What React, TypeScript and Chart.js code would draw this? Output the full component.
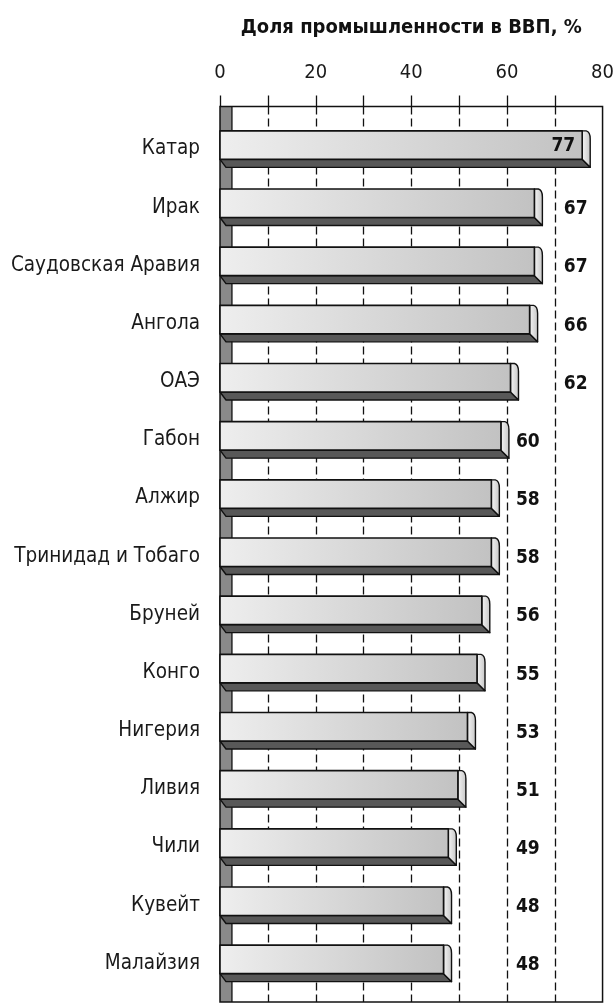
import { useEffect, useRef } from "react";
import { Chart, registerables } from "chart.js";

Chart.register(...registerables);

const TITLE = "Доля промышленности в ВВП, %";
const countries = [
  "Катар",
  "Ирак",
  "Саудовская Аравия",
  "Ангола",
  "ОАЭ",
  "Габон",
  "Алжир",
  "Тринидад и Тобаго",
  "Бруней",
  "Конго",
  "Нигерия",
  "Ливия",
  "Чили",
  "Кувейт",
  "Малайзия",
];
const shares = [77, 67, 67, 66, 62, 60, 58, 58, 56, 55, 53, 51, 49, 48, 48];
const axisTicks = [0, 20, 40, 60, 80];
const gridStep = 10;

const W = 614;
const H = 1004;
const FONT = "'DejaVu Sans Condensed', 'DejaVu Sans', sans-serif";

const decorPlugin = {
  id: "decor3d",
  beforeDatasetsDraw(chart: any) {
    const { ctx, chartArea, scales } = chart;
    const x = scales.x;
    const left = chartArea.left;
    const right = chartArea.right;
    const top = chartArea.top - 9.5;
    const bottom = chartArea.bottom + 13.5;
    ctx.save();
    // left wall
    const wallR = x.getPixelForValue(2.5);
    ctx.fillStyle = "#8a8a8a";
    ctx.fillRect(left, top, wallR - left, bottom - top);
    ctx.strokeStyle = "#111";
    ctx.lineWidth = 1.3;
    ctx.beginPath();
    ctx.moveTo(wallR, top);
    ctx.lineTo(wallR, bottom);
    ctx.stroke();
    // dashed grid
    ctx.setLineDash([8, 4]);
    ctx.lineWidth = 1.3;
    for (let v = gridStep; v < x.max; v += gridStep) {
      const px = Math.round(x.getPixelForValue(v)) + 0.5;
      ctx.beginPath();
      ctx.moveTo(px, top);
      ctx.lineTo(px, bottom);
      ctx.stroke();
    }
    ctx.setLineDash([]);
    // tick marks above the frame
    for (let v = 0; v < x.max; v += gridStep) {
      const px = Math.round(x.getPixelForValue(v)) + 0.5;
      ctx.beginPath();
      ctx.moveTo(px, top - 11);
      ctx.lineTo(px, top);
      ctx.stroke();
    }
    // frame
    ctx.lineWidth = 1.5;
    ctx.strokeRect(left, top, right - left, bottom - top);
    // title
    ctx.fillStyle = "#111";
    ctx.font = `bold 20px ${FONT}`;
    ctx.textAlign = "center";
    ctx.textBaseline = "alphabetic";
    ctx.fillText(TITLE, (left + right) / 2, 33);
    ctx.restore();
  },
  afterDatasetsDraw(chart: any) {
    const { ctx, scales } = chart;
    const x = scales.x;
    const meta = chart.getDatasetMeta(0);
    const data = chart.data.datasets[0].data as number[];
    ctx.save();
    meta.data.forEach((el: any, i: number) => {
      const h = el.height;
      const t = el.y - h / 2;
      const b = el.y + h / 2;
      const base = el.base;
      const faceR = el.x - 6;
      const d = 8;
      const dy = 8;
      ctx.lineWidth = 1.4;
      ctx.strokeStyle = "#111";
      ctx.lineJoin = "round";
      // bottom depth
      ctx.beginPath();
      ctx.moveTo(base, b);
      ctx.lineTo(faceR, b);
      ctx.lineTo(faceR + d, b + dy);
      ctx.lineTo(base + d - 2, b + dy);
      ctx.closePath();
      ctx.fillStyle = "#585858";
      ctx.fill();
      ctx.stroke();
      // right cap
      const cg = ctx.createLinearGradient(faceR, 0, faceR + d, 0);
      cg.addColorStop(0, "#f4f4f4");
      cg.addColorStop(1, "#c8c8c8");
      ctx.beginPath();
      ctx.moveTo(faceR, t);
      ctx.lineTo(faceR + d - 4, t);
      ctx.quadraticCurveTo(faceR + d, t + 1, faceR + d, t + dy);
      ctx.lineTo(faceR + d, b + dy);
      ctx.lineTo(faceR, b);
      ctx.closePath();
      ctx.fillStyle = cg;
      ctx.fill();
      ctx.stroke();
      // front face
      const g = ctx.createLinearGradient(base, 0, faceR, 0);
      g.addColorStop(0, "#eeeeee");
      g.addColorStop(1, "#c2c2c2");
      ctx.fillStyle = g;
      ctx.fillRect(base, t, faceR - base, h);
      ctx.lineWidth = 1.6;
      ctx.strokeRect(base, t, faceR - base, h);
      // value label
      const v = data[i];
      ctx.fillStyle = "#111";
      ctx.font = `bold 19px ${FONT}`;
      ctx.textBaseline = "middle";
      if (v > 70) {
        ctx.textAlign = "right";
        ctx.fillText(String(v), faceR - 7, el.y + 1);
      } else {
        const col = v > 60 ? 75 : 65;
        ctx.textAlign = "center";
        ctx.fillText(String(v), x.getPixelForValue(col) - 3, el.y + 6);
      }
    });
    ctx.restore();
  },
};

export default function App() {
  const ref = useRef<HTMLCanvasElement | null>(null);
  useEffect(() => {
    if (!ref.current) return;
    Chart.defaults.font.family = FONT;
    const chart = new Chart(ref.current, {
      type: "bar",
      data: {
        labels: countries,
        datasets: [
          {
            data: shares,
            backgroundColor: "rgba(0,0,0,0)",
            borderWidth: 0,
            categoryPercentage: 1,
            barPercentage: 0.49,
          },
        ],
      },
      options: {
        indexAxis: "y",
        animation: false,
        responsive: false,
        devicePixelRatio: 1,
        layout: { padding: { left: 0, right: 11, top: 0, bottom: 15.5 } },
        plugins: {
          legend: { display: false },
          title: { display: false },
          tooltip: { enabled: false },
        },
        scales: {
          x: {
            position: "top",
            min: 0,
            max: 80,
            grid: { display: false, drawTicks: true, tickLength: 31 },
            border: { display: false },
            afterFit: (s: any) => {
              s.height = 116;
            },
            afterBuildTicks: (s: any) => {
              s.ticks = axisTicks.map((v) => ({ value: v }));
            },
            ticks: {
              padding: 0,
              color: "#1a1a1a",
              font: { size: 20, family: FONT },
              maxRotation: 0,
            },
          },
          y: {
            grid: { display: false, drawTicks: true, tickLength: 20 },
            border: { display: false },
            afterFit: (s: any) => {
              s.width = 220;
            },
            ticks: {
              padding: 0,
              labelOffset: 4,
              color: "#1a1a1a",
              font: { size: 20.5, family: FONT },
              autoSkip: false,
            },
          },
        },
      },
      plugins: [decorPlugin],
    });
    return () => chart.destroy();
  }, []);
  return (
    <div
      style={{
        position: "absolute",
        left: 0,
        top: 0,
        width: W,
        height: H,
        overflow: "hidden",
        background: "#fff",
      }}
    >
      <canvas ref={ref} width={W} height={H} style={{ display: "block", width: W, height: H }} />
    </div>
  );
}
